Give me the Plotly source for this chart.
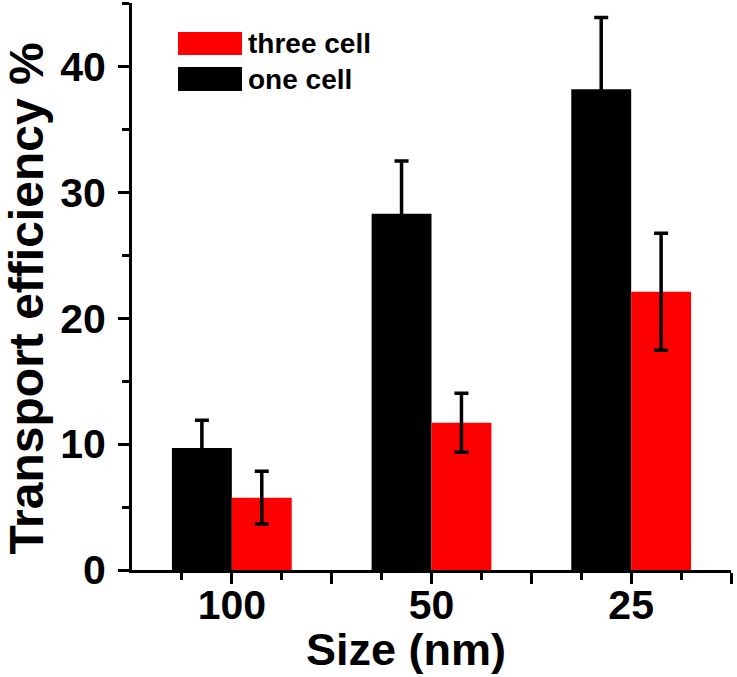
import plotly.graph_objects as go

# ---- data ----
categories = ["100", "50", "25"]
series_names = ["one cell", "three cell"]
one_cell = [9.7, 28.3, 38.2]
one_cell_err = [2.2, 4.2, 5.7]
three_cell = [5.75, 11.7, 22.1]
three_cell_err = [2.1, 2.35, 4.65]
y_ticks = [0, 10, 20, 30, 40]

FONT = "Liberation Sans, Arial, sans-serif"
xpos = list(range(len(categories)))

fig = go.Figure()
fig.add_trace(go.Bar(
    x=xpos, y=one_cell, name=series_names[0],
    marker=dict(color="#000000", line=dict(width=0)),
    error_y=dict(type="data", array=one_cell_err, visible=True,
                 color="#000000", thickness=3.5, width=7),
))
fig.add_trace(go.Bar(
    x=xpos, y=three_cell, name=series_names[1],
    marker=dict(color="#ff0000", line=dict(width=0)),
    error_y=dict(type="data", array=three_cell_err, visible=True,
                 color="#000000", thickness=3.5, width=7),
))

# major x ticks at category centres and group boundaries
x_tickvals = []
x_ticktext = []
for i, c in enumerate(categories):
    x_tickvals += [i, i + 0.5]
    x_ticktext += [c, ""]

fig.update_layout(
    width=737, height=677,
    margin=dict(l=132, r=6, t=3, b=107),
    paper_bgcolor="white", plot_bgcolor="white",
    barmode="group", bargap=0.4, bargroupgap=0,
    showlegend=False,
    font=dict(family=FONT, color="black"),
    xaxis=dict(
        range=[-0.5, 2.5], showgrid=False, zeroline=False,
        showline=True, linecolor="black", linewidth=3,
        tickmode="array", tickvals=x_tickvals, ticktext=x_ticktext,
        ticks="outside", ticklen=11, tickwidth=3, tickcolor="black",
        ticklabelstandoff=-14,
        tickfont=dict(family=FONT, size=41, weight="bold", color="black"),
        minor=dict(tick0=-0.25, dtick=0.5, ticks="outside", ticklen=7,
                   tickwidth=3, tickcolor="black"),
    ),
    yaxis=dict(
        range=[0, 45.05], showgrid=False, zeroline=False,
        showline=True, linecolor="black", linewidth=3,
        tickmode="array", tickvals=y_ticks,
        ticks="outside", ticklen=11, tickwidth=3, tickcolor="black",
        ticklabelstandoff=4,
        tickfont=dict(family=FONT, size=41, weight="bold", color="black"),
        minor=dict(tick0=5, dtick=10, ticks="outside", ticklen=7,
                   tickwidth=3, tickcolor="black"),
    ),
)

# axis titles
fig.add_annotation(text="Size (nm)", xref="paper", yref="paper",
                   x=0.457, y=-0.141, xanchor="center", yanchor="middle",
                   showarrow=False,
                   font=dict(family=FONT, size=45, weight="bold", color="black"))
fig.add_annotation(text="Transport efficiency %", xref="paper", yref="paper",
                   x=-0.176, y=0.478, xanchor="center", yanchor="middle",
                   textangle=-90, showarrow=False,
                   font=dict(family=FONT, size=48, weight="bold", color="black"))

# legend drawn as boxes + text (three cell first, then one cell)
legend_items = [(series_names[1], "#ff0000", 0.9489, 0.9083),
                (series_names[0], "#000000", 0.8871, 0.8448)]
for name, col, ytop, ybot in legend_items:
    fig.add_shape(type="rect", xref="paper", yref="paper",
                  x0=0.0768, x1=0.1836, y0=ybot, y1=ytop,
                  fillcolor=col, line=dict(width=0))
    fig.add_annotation(text=name, xref="paper", yref="paper",
                       x=0.190, y=(ytop + ybot) / 2, xanchor="left",
                       yanchor="middle", showarrow=False,
                       font=dict(family=FONT, size=28, weight="bold", color="black"))

fig.write_html("out.html", config={"displayModeBar": False},
               post_script="document.body.style.margin='0';document.body.style.padding='0';")
